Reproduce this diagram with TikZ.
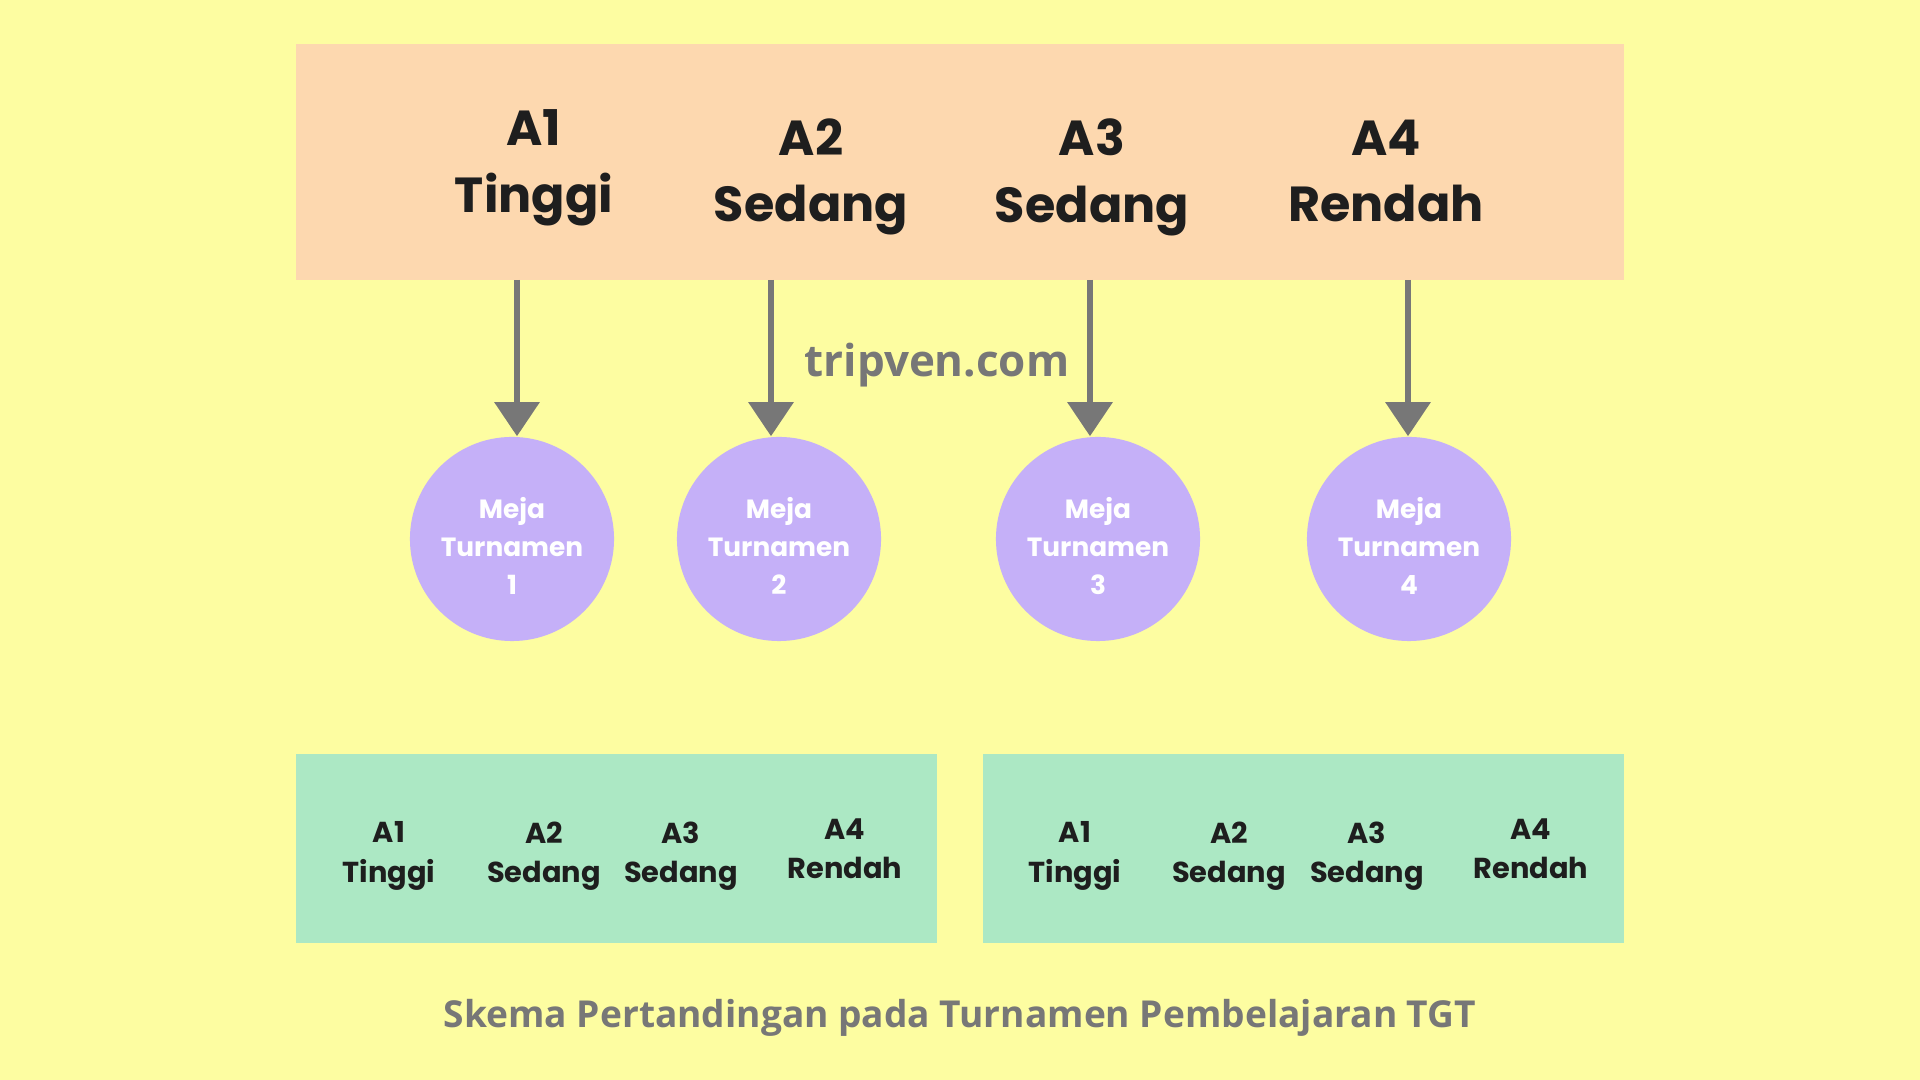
\documentclass[tikz,border=0pt]{standalone}
\usepackage{fontspec}
\setmainfont{Poppins}
\newfontfamily\opensans{Open Sans}
\usetikzlibrary{arrows.meta,calc}
\definecolor{bgY}{HTML}{FDFDA1}
\definecolor{topC}{HTML}{FDD8AF}
\definecolor{circC}{HTML}{C5B0F8}
\definecolor{greenC}{HTML}{ACE8C4}
\definecolor{grayC}{HTML}{777777}
\definecolor{darkC}{HTML}{1E1E1E}
\tikzset{
  bigtxt/.style={font=\fontsize{14}{19}\selectfont\bfseries, text=darkC, align=center, inner sep=0pt},
  smalltxt/.style={font=\fontsize{8.2}{11.2}\selectfont\bfseries, text=darkC, align=center, inner sep=0pt},
  meja/.style={circle, fill=circC, minimum size=2.04cm, inner sep=0pt},
  mejatxt/.style={align=center, inner sep=0pt, text=white, font=\fontsize{7.5}{10.8}\selectfont\bfseries},
  arr/.style={draw=grayC, line width=1.7pt, -{Triangle[width=0.44cm,length=0.34cm]}},
}
\begin{document}
\begin{tikzpicture}[x=0.01cm,y=-0.01cm]
\fill[bgY] (0,0) rectangle (1920,1080);
\useasboundingbox (0,0) rectangle (1920,1080);
% top box
\node[fill=topC, minimum width=13.28cm, minimum height=2.36cm, inner sep=0pt] (top) at (960,162) {};
\node[bigtxt] (t1) at (534,168) {A1\\Tinggi};
\node[bigtxt] (t2) at (811,177) {A2\\Sedang};
\node[bigtxt] (t3) at (1092,177) {A3\\Sedang};
\node[bigtxt] (t4) at (1386,171) {A4\\Rendah};
% circles
\node[meja] (c1) at (512,539) {};
\node[meja] (c2) at (779,539) {};
\node[meja] (c3) at (1098,539) {};
\node[meja] (c4) at (1409,539) {};
\node[mejatxt] (m1) at ($(c1)+(0,7)$) {Meja\\Turnamen\\1};
\node[mejatxt] (m2) at ($(c2)+(0,7)$) {Meja\\Turnamen\\2};
\node[mejatxt] (m3) at ($(c3)+(0,7)$) {Meja\\Turnamen\\3};
\node[mejatxt] (m4) at ($(c4)+(0,7)$) {Meja\\Turnamen\\4};
% arrows
\coordinate (a1) at (517,280);
\coordinate (a2) at (771,280);
\coordinate (a3) at (1090,280);
\coordinate (a4) at (1408,280);
\draw[arr] (a1) -- (a1 |- c1.north);
\draw[arr] (a2) -- (a2 |- c2.north);
\draw[arr] (a3) -- (a3 |- c3.north);
\draw[arr] (a4) -- (a4 |- c4.north);
% watermark
\node[font=\opensans\fontsize{12.5}{15}\selectfont\bfseries, text=grayC, inner sep=0pt] (wm) at (937,365) {tripven.com};
% green boxes
\node[fill=greenC, minimum width=6.41cm, minimum height=1.89cm, inner sep=0pt] (g1) at (616.5,848.5) {};
\node[fill=greenC, minimum width=6.41cm, minimum height=1.89cm, inner sep=0pt] (g2) at (1303.5,848.5) {};
\node[smalltxt] (l1) at (389,856) {A1\\Tinggi};
\node[smalltxt] (l2) at (544,856) {A2\\Sedang};
\node[smalltxt] (l3) at (681,856) {A3\\Sedang};
\node[smalltxt] (l4) at (845,849) {A4\\Rendah};
\node[smalltxt] (r1) at (1075,856) {A1\\Tinggi};
\node[smalltxt] (r2) at (1229,856) {A2\\Sedang};
\node[smalltxt] (r3) at (1367,856) {A3\\Sedang};
\node[smalltxt] (r4) at (1531,849) {A4\\Rendah};
% caption
\node[font=\opensans\fontsize{10.55}{13}\selectfont\bfseries, text=grayC, inner sep=0pt] (cap) at (960,1018) {Skema Pertandingan pada Turnamen Pembelajaran TGT};
\end{tikzpicture}
\end{document}
